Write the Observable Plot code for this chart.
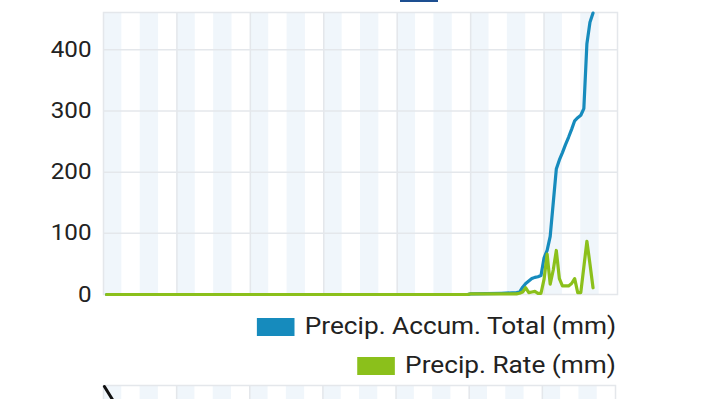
<!DOCTYPE html>
<html>
<head>
<meta charset="utf-8">
<script src="https://cdn.jsdelivr.net/npm/d3@7"></script>
<script src="https://cdn.jsdelivr.net/npm/@observablehq/plot@0.6"></script>
<style>
  html, body { margin: 0; padding: 0; background: #fff; }
  #page { position: relative; width: 720px; height: 399px; overflow: hidden; font-family: Roboto, sans-serif; }
  #main { position: absolute; left: 0; top: 0; }
  #lower { position: absolute; left: 0; top: 384px; }
  .legend-row { position: absolute; right: 104px; display: flex; align-items: center; gap: 9px; font-size: 23px; color: #222; white-space: nowrap; transform: scaleX(1.14); transform-origin: right center; }
  .sw { width: 33px; height: 18px; display: inline-block; }
  #topsw { position: absolute; left: 400px; top: 0; width: 38px; height: 2px; background: #1d4f91; }
</style>
</head>
<body>
<div id="page">
  <div id="main"></div>
  <div id="topsw"></div>
  <div id="legend"></div>
  <div id="lower"></div>
</div>
<script>
// Hours since start of the 7-day window
const accumHours = [1, 119, 120, 125, 130, 135, 136, 137, 138, 139, 140, 141, 142, 143, 144, 145, 146, 147, 148, 149, 150, 151, 152, 153, 154, 155, 156, 157, 158, 159, 160];
const accumTotal = [0, 0, 1, 1.5, 2, 3, 4, 12, 18, 22, 26, 28, 29, 31, 60, 72, 95, 150, 205, 220, 232, 245, 257, 270, 284, 289, 293, 304, 410, 445, 460];

const rateHours = [1, 119, 120, 130, 135, 136, 137, 138, 139, 140, 141, 142, 143, 144, 145, 146, 147, 148, 149, 150, 151, 152, 153, 154, 155, 156, 157, 158, 159, 160];
const rateValues = [0, 0, 1, 1, 1, 2, 4, 11, 3, 4, 5, 2, 2, 25, 66, 17, 40, 72, 26, 14, 14, 14, 18, 26, 3, 3, 45, 87, 50, 11];

const yTicks = [0, 100, 200, 300, 400];
const dayLines = [24, 48, 72, 96, 120, 144];
const bandStarts = [0, 12, 24, 36, 48, 60, 72, 84, 96, 108, 120, 132, 144, 156];
const seriesNames = ["Precip. Accum. Total (mm)", "Precip. Rate (mm)"];
const seriesColors = ["#168bbd", "#8bc01b"];

// next panel (only its top edge is visible)
const nextHours = [0.3, 3.3, 6];
const nextValues = [99, 84, 70];

const accum = accumHours.map((h, i) => ({h, v: accumTotal[i]}));
const rate = rateHours.map((h, i) => ({h, v: rateValues[i]}));

const grid = "#e4e7eb";
const band = "#f0f6fb";

const chart = Plot.plot({
  width: 720,
  height: 318,
  marginLeft: 103,
  marginRight: 103,
  marginTop: 12,
  marginBottom: 24,
  x: {domain: [0, 168], axis: null},
  y: {domain: [0, 461], axis: null},
  style: {fontFamily: "Roboto, sans-serif", fontSize: "22px", color: "#222", background: "#fff", overflow: "visible"},
  marks: [
    Plot.rect(bandStarts, {x1: d => d, x2: d => d + 6, fill: band}),
    Plot.ruleX(dayLines, {stroke: grid, strokeWidth: 1.5}),
    Plot.ruleY(yTicks.slice(1), {stroke: grid, strokeWidth: 1.5}),
    Plot.frame({stroke: grid, strokeWidth: 1.5}),
    Plot.axisY(yTicks, {tickSize: 0, tickPadding: 12, label: null, fontSize: 22, fill: "#222"}),
    Plot.line(accum, {x: "h", y: "v", stroke: seriesColors[0], strokeWidth: 3.2}),
    Plot.line(rate, {x: "h", y: "v", stroke: seriesColors[1], strokeWidth: 3.2})
  ]
});
document.getElementById("main").appendChild(chart);
// widen tick labels horizontally (the reference glyphs are stretched)
chart.querySelectorAll('g[aria-label="y-axis tick label"] text').forEach(t => {
  const existing = t.getAttribute("transform") || "";
  const x = +t.getAttribute("x") || 0;
  t.setAttribute("transform", `${existing} translate(${x},0) scale(1.1,1) translate(${-x},0)`);
});

// Legend
const legend = document.getElementById("legend");
const rowTops = [313, 352];
seriesNames.forEach((name, i) => {
  const row = document.createElement("div");
  row.className = "legend-row";
  row.style.top = rowTops[i] + "px";
  const sw = document.createElement("span");
  sw.className = "sw";
  sw.style.background = seriesColors[i];
  const t = document.createElement("span");
  t.textContent = name;
  row.appendChild(sw);
  row.appendChild(t);
  legend.appendChild(row);
});

// Next panel
const lower = Plot.plot({
  width: 720,
  height: 100,
  marginLeft: 103,
  marginRight: 105,
  marginTop: 1,
  marginBottom: 0,
  x: {domain: [0, 168], axis: null},
  y: {domain: [0, 100], axis: null},
  style: {background: "#fff"},
  marks: [
    Plot.rect(bandStarts, {x1: d => d, x2: d => d + 6, fill: band}),
    Plot.ruleX(dayLines, {stroke: grid, strokeWidth: 1.5}),
    Plot.frame({stroke: grid, strokeWidth: 1.5}),
    Plot.line(nextHours.map((h, i) => ({h, v: nextValues[i]})), {x: "h", y: "v", stroke: "#111", strokeWidth: 3})
  ]
});
document.getElementById("lower").appendChild(lower);
</script>
</body>
</html>
